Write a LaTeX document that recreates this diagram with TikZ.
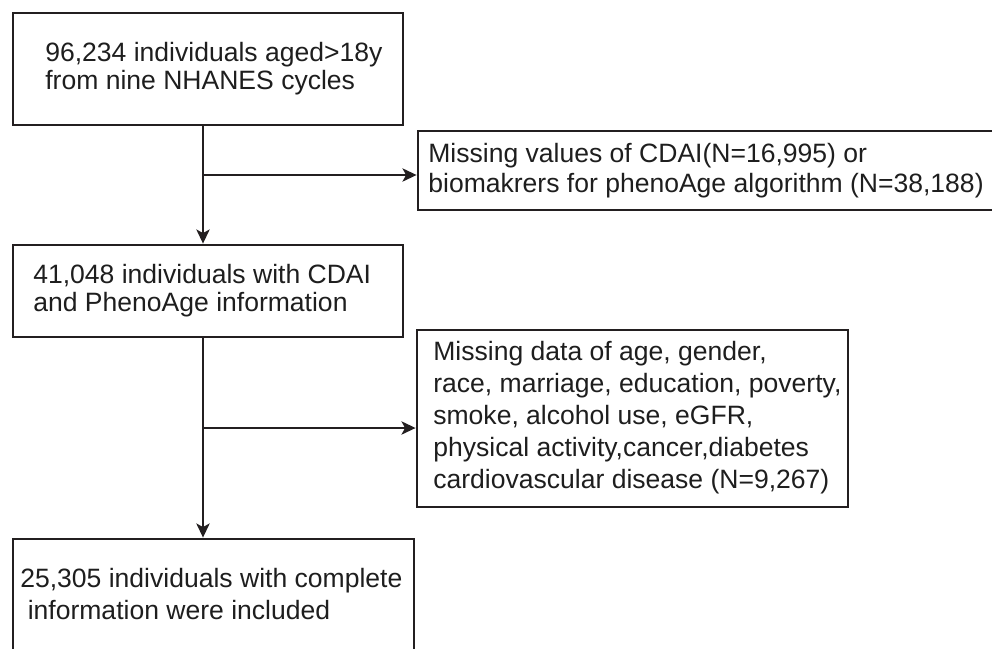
\documentclass[tikz,border=0pt]{standalone}
\usepackage{fontspec}
\setmainfont{Liberation Sans}
\usetikzlibrary{positioning,arrows.meta,calc}
\definecolor{flowink}{RGB}{35,31,32}
\definecolor{flowtext}{RGB}{30,30,30}

\tikzset{
  flowbox/.style={draw=flowink,line width=1.6pt,rectangle,inner sep=0pt},
  flowtxt/.style={anchor=west,align=left,inner sep=0pt,text=flowtext,
    font=\fontsize{15.1}{15.9}\selectfont},
  loosetxt/.style={flowtxt,font=\fontsize{15.1}{18.2}\selectfont},
  flowarrow/.style={draw=flowink,line width=1.4pt,-{Stealth[length=8pt,width=7.5pt,inset=2pt]}}
}

\begin{document}
\begin{tikzpicture}
  \useasboundingbox (0,0) rectangle (19.84,-12.96);
  \clip (0,0) rectangle (19.84,-12.96);
  % boxes of the flow
  \node[flowbox,minimum width=7.8cm,minimum height=2.24cm] (start) at (4.16,-1.38) {};
  \node[flowbox,minimum width=11.64cm,minimum height=1.58cm] (excl1) at (14.18,-3.41) {};
  \node[flowbox,minimum width=7.8cm,minimum height=1.84cm] (mid) at (4.16,-5.82) {};
  \node[flowbox,minimum width=8.62cm,minimum height=3.54cm] (excl2) at (12.65,-8.37) {};
  \node[flowbox,minimum width=8.02cm,minimum height=2.42cm] (final) at (4.27,-11.99) {};
  % texts
  \node[flowtxt] (startlbl) at (0.9,-1.38) {96,234 individuals aged>18y\\from nine NHANES cycles};
  \node[flowtxt,font=\fontsize{15.1}{17}\selectfont] (excl1lbl) at (8.56,-3.42)
    {Missing values of CDAI(N=16,995) or\\biomakrers for phenoAge algorithm (N=38,188)};
  \node[flowtxt] (midlbl) at (0.66,-5.82) {41,048 individuals with CDAI\\and PhenoAge information};
  \node[loosetxt] (excl2lbl) at (8.66,-8.36)
    {Missing data of age, gender,\\race, marriage, education, poverty,\\smoke, alcohol use, eGFR,\\physical activity,cancer,diabetes\\cardiovascular disease (N=9,267)};
  \node[loosetxt] (finallbl) at (0.4,-11.88)
    {25,305 individuals with complete\\\hspace*{0.28em}information were included};
  % connectors
  \coordinate (split1) at (4.06,-3.5);
  \coordinate (split2) at (4.06,-8.56);
  \draw[flowarrow] (start.south -| split1) -- (mid.north -| split1);
  \draw[flowarrow] (split1) -- (excl1.west |- split1);
  \draw[flowarrow] (mid.south -| split2) -- (final.north -| split2);
  \draw[flowarrow] (split2) -- (excl2.west |- split2);
\end{tikzpicture}
\end{document}
